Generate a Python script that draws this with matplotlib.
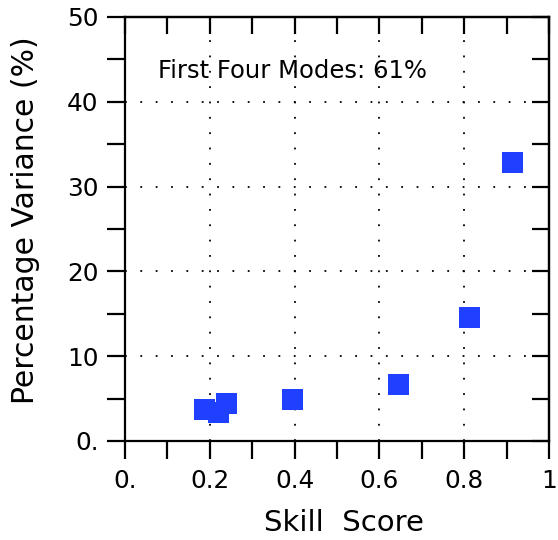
import matplotlib
matplotlib.use("Agg")
import matplotlib.pyplot as plt
from matplotlib.ticker import FixedLocator, FixedFormatter, MultipleLocator

skill_score = [0.186, 0.239, 0.220, 0.395, 0.645, 0.812, 0.913]
pct_variance = [3.8, 4.45, 3.4, 4.9, 6.7, 14.6, 32.9]

x_ticks = [0.0, 0.2, 0.4, 0.6, 0.8, 1.0]
x_tick_labels = ["0.", "0.2", "0.4", "0.6", "0.8", "1"]
y_ticks = [0, 10, 20, 30, 40, 50]
y_tick_labels = ["0.", "10", "20", "30", "40", "50"]
annotation = "First Four Modes: 61%"

plt.rcParams['font.family'] = ['DejaVu Sans']

fig = plt.figure(figsize=(5.58, 5.40), dpi=100)
ax = fig.add_axes([125/558, 1 - 441/540, 424/558, 424/540])

ax.scatter(skill_score, pct_variance, marker='s', s=(21*72/100)**2,
           color='#2040ff', linewidths=0, zorder=3)

ax.set_xlim(0, 1)
ax.set_ylim(0, 50)

ax.xaxis.set_major_locator(FixedLocator(x_ticks))
ax.xaxis.set_major_formatter(FixedFormatter(x_tick_labels))
ax.yaxis.set_major_locator(FixedLocator(y_ticks))
ax.yaxis.set_major_formatter(FixedFormatter(y_tick_labels))
ax.xaxis.set_minor_locator(MultipleLocator(0.1))
ax.yaxis.set_minor_locator(MultipleLocator(5))

for sp in ax.spines.values():
    sp.set_linewidth(1.6)

ax.tick_params(axis='both', which='both', width=1.6, length=13,
               labelsize=17.8, color='black')
ax.tick_params(axis='x', which='both', direction='out', top=False, pad=7)
ax.tick_params(axis='y', which='both', direction='out', right=False, pad=6)

axt = ax.secondary_xaxis('top')
axt.xaxis.set_major_locator(FixedLocator(x_ticks))
axt.xaxis.set_minor_locator(MultipleLocator(0.1))
axt.tick_params(axis='x', which='both', direction='in', length=12, width=1.6, labeltop=False)
axt.spines['top'].set_linewidth(1.6)
axr = ax.secondary_yaxis('right')
axr.yaxis.set_major_locator(FixedLocator(y_ticks))
axr.yaxis.set_minor_locator(MultipleLocator(5))
axr.tick_params(axis='y', which='both', direction='in', length=12, width=1.6, labelright=False)
axr.spines['right'].set_linewidth(1.6)

for v in [0.2, 0.4, 0.6, 0.8]:
    ax.axvline(v, color='black', lw=1.3, linestyle=(0, (1, 7.5)), zorder=1)
for v in [10, 20, 30, 40]:
    ax.axhline(v, color='black', lw=1.3, linestyle=(0, (1, 7.5)), zorder=1)

ax.text(0.395, 42.77, annotation, fontsize=17.5, ha='center', va='baseline')

ax.set_xlabel("Skill  Score", fontsize=21)
ax.xaxis.set_label_coords(0.516, -0.160)
ax.set_ylabel("Percentage Variance (%)", fontsize=21.5)
ax.yaxis.set_label_coords(-0.200, 0.521)

fig.savefig("out.png", dpi=100)
